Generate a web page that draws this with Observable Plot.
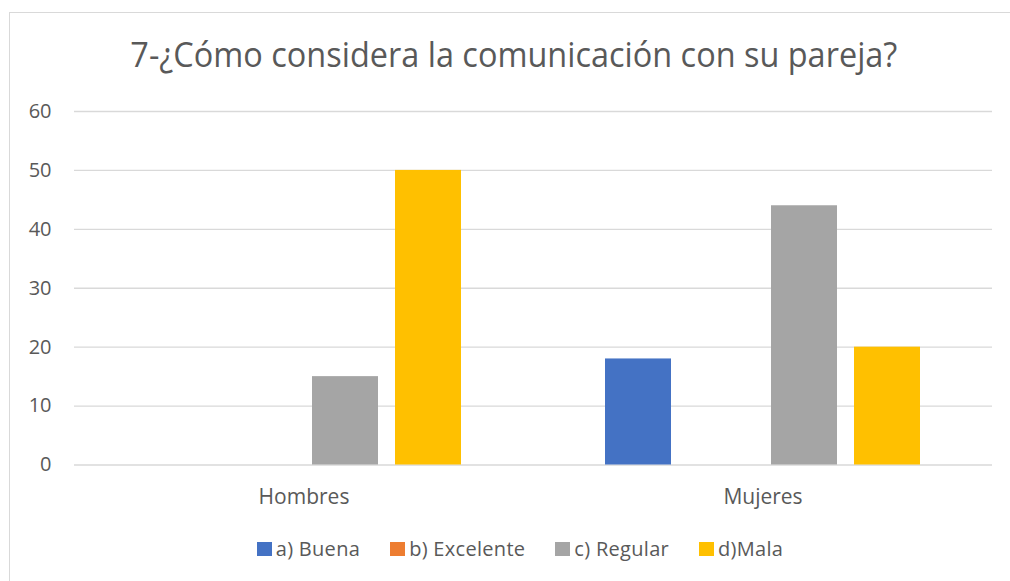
<!DOCTYPE html>
<html>
<head>
<meta charset="utf-8">
<script src="https://cdn.jsdelivr.net/npm/d3@7"></script>
<script src="https://cdn.jsdelivr.net/npm/@observablehq/plot@0.6"></script>
<style>
  html, body { margin: 0; padding: 0; background: #fff; overflow: hidden; }
  #root { position: relative; width: 1010px; height: 581px; font-family: "Open Sans", sans-serif; color: #595959; }
  #frame { position: absolute; left: 9px; top: 12px; width: 1100px; height: 700px; border: 1px solid #D9D9D9; box-sizing: border-box; }
  #title { position: absolute; left: 0; top: 31px; width: 1027px; text-align: center; font-size: 34px; white-space: nowrap; }
  #title span { display: inline-block; transform-origin: center; }
  #chart { position: absolute; left: 0; top: 100px; }
  #legend { position: absolute; left: 0; top: 535px; width: 1040px; display: flex; justify-content: center; gap: 30px; font-size: 20px; letter-spacing: 0.3px; }
  .item { display: flex; align-items: center; gap: 4px; }
  .sw { width: 15px; height: 14px; display: inline-block; }
</style>
</head>
<body>
<div id="root">
  <div id="frame"></div>
  <div id="title"><span id="titleText"></span></div>
  <div id="chart"></div>
  <div id="legend"></div>
</div>
<script>
const titleText = "7-¿Cómo considera la comunicación con su pareja?";
const groups = ["Hombres", "Mujeres"];
const series = ["a) Buena", "b) Excelente", "c) Regular", "d)Mala"];
const hombres = [0, 0, 15, 50];
const mujeres = [18, 0, 44, 20];
const colors = ["#4472C4", "#ED7D31", "#A5A5A5", "#FFC000"];
const yTicks = [0, 10, 20, 30, 40, 50, 60];

const valuesByGroup = [hombres, mujeres];
const data = groups.flatMap((g, i) => series.map((s, j) => ({group: g, series: s, value: valuesByGroup[i][j]})));

// Title
const tspan = document.getElementById("titleText");
tspan.textContent = titleText;
const w = tspan.getBoundingClientRect().width;
tspan.style.transform = `scaleX(${767 / w})`;

const chart = Plot.plot({
  width: 1010,
  height: 420,
  marginTop: 11,
  marginBottom: 55.5,
  marginLeft: 74,
  marginRight: 18,
  style: {fontFamily: "'Open Sans', sans-serif", fontSize: "20px", color: "#595959", background: "transparent", overflow: "visible"},
  fx: {domain: groups, padding: 0, label: null, axis: null},
  x: {domain: series, paddingInner: 0.205, paddingOuter: 0.867, axis: null},
  y: {domain: [0, 60], label: null, axis: null},
  color: {domain: series, range: colors},
  marks: [
    Plot.gridY(yTicks, {stroke: "#D9D9D9", strokeOpacity: 1, strokeWidth: 1.3}),
    Plot.barY(data, {fx: "group", x: "series", y: "value", fill: "series"}),
    Plot.axisY(yTicks, {tickSize: 0, tickPadding: 23, fontSize: 20, label: null}),
    Plot.axisFx({anchor: "bottom", tickSize: 0, tickPadding: 24, fontSize: 21, label: null})
  ]
});
document.getElementById("chart").appendChild(chart);

// Legend
const legend = document.getElementById("legend");
series.forEach((s, i) => {
  const it = document.createElement("div");
  it.className = "item";
  const sw = document.createElement("span");
  sw.className = "sw";
  sw.style.background = colors[i];
  const tx = document.createElement("span");
  tx.textContent = s;
  it.appendChild(sw);
  it.appendChild(tx);
  legend.appendChild(it);
});
</script>
</body>
</html>
